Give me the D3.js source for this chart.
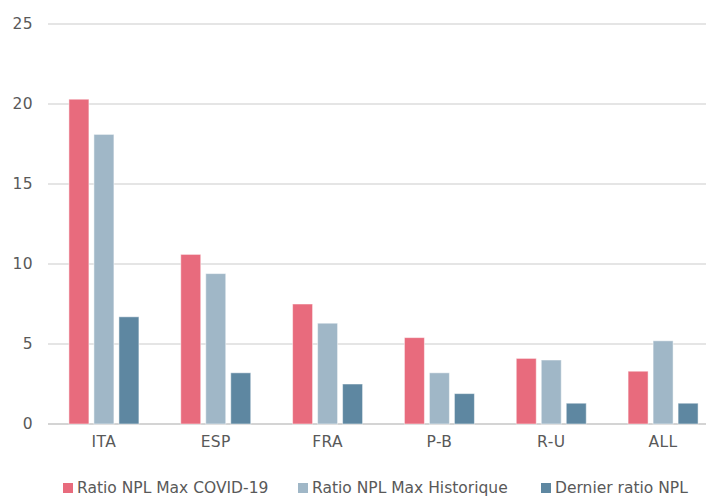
<!DOCTYPE html>
<html><head><meta charset="utf-8">
<script src="https://cdn.jsdelivr.net/npm/d3@7"></script>
<style>body{margin:0;background:#fff}svg{display:block}text{font-family:"DejaVu Sans",sans-serif;fill:#595959;letter-spacing:0.4px}text.leg{letter-spacing:0}</style>
</head><body><svg id="c" width="706" height="496"></svg>
<script>
const categories = ["ITA","ESP","FRA","P-B","R-U","ALL"];
const seriesNames = ["Ratio NPL Max COVID-19","Ratio NPL Max Historique","Dernier ratio NPL"];
const covidMax = [20.3,10.6,7.5,5.4,4.1,3.3];
const histMax = [18.1,9.4,6.3,3.2,4.0,5.2];
const lastRatio = [6.7,3.2,2.5,1.9,1.3,1.3];
const yTicks = [0,5,10,15,20,25];
const colors = ["#E86B7D","#A0B7C7","#5E87A1"];

const series = [covidMax, histMax, lastRatio];
const svg = d3.select("#c");
const x = d3.scaleBand().domain(categories).range([48,719]).paddingInner(0).paddingOuter(0);
const y = d3.scaleLinear().domain([0,25]).range([424,24]);
const xs = d3.scaleBand().domain(d3.range(3)).range([0,70]).paddingInner(0.2).paddingOuter(0);

// grid
svg.append("g").selectAll("line").data(yTicks).join("line")
  .attr("x1",48).attr("x2",719).attr("y1",d=>y(d)).attr("y2",d=>y(d))
  .attr("stroke",d=>d===0?"#d4d4d4":"#dcdcdc").attr("stroke-width",d=>d===0?2:1.5);

const yAxis = d3.axisLeft(y).tickValues(yTicks).tickSize(0).tickPadding(15);
const ga = svg.append("g").attr("transform","translate(48,0)").call(yAxis);
ga.select(".domain").remove();
ga.selectAll("text").style("font-size","15.5px").attr("fill","#595959");

const xAxis = d3.axisBottom(x).tickSize(0).tickPadding(12);
const gx = svg.append("g").attr("transform","translate(0,424)").call(xAxis);
gx.select(".domain").remove();
gx.selectAll("text").style("font-size","15.5px").attr("fill","#595959");

const groups = svg.append("g").selectAll("g").data(categories).join("g")
  .attr("transform",d=>`translate(${x(d)+x.bandwidth()/2-35},0)`);
groups.selectAll("rect").data((d,i)=>series.map((s,k)=>({k,v:s[i]}))).join("rect")
  .attr("x",d=>xs(d.k)).attr("width",xs.bandwidth())
  .attr("y",d=>y(d.v)).attr("height",d=>y(0)-y(d.v))
  .attr("fill",d=>colors[d.k]).attr("stroke","#fff").attr("stroke-opacity",0.5).attr("stroke-width",1);

// legend
const legX = [63,298,541];
const lg = svg.append("g").selectAll("g").data(seriesNames).join("g")
  .attr("transform",(d,i)=>`translate(${legX[i]},483)`);
lg.append("rect").attr("width",10).attr("height",10).attr("fill",(d,i)=>colors[i]);
lg.append("text").attr("class","leg").attr("x",14).attr("y",10).style("font-size",'15.5px').text(d=>d);
</script></body></html>
